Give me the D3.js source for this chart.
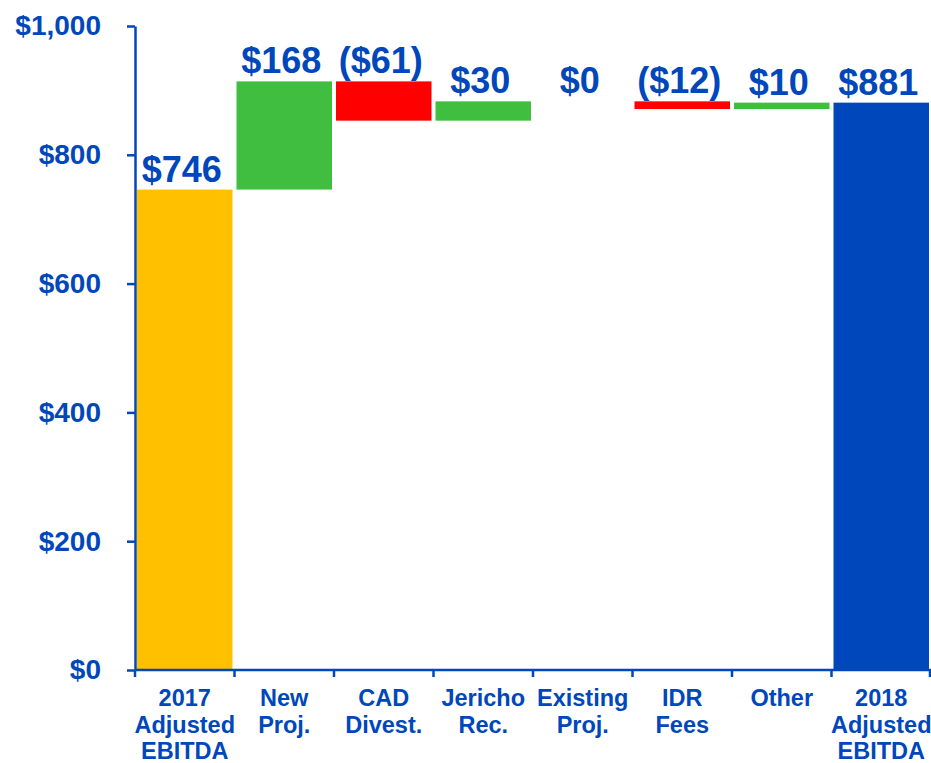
<!DOCTYPE html>
<html>
<head>
<meta charset="utf-8">
<script src="https://cdn.jsdelivr.net/npm/d3@7"></script>
<style>
  body { margin: 0; background: #fff; }
  svg { display: block; font-family: "Liberation Sans", Arial, sans-serif; font-weight: bold; }
</style>
</head>
<body>
<div id="chart"></div>
<script>
// categories, split into label lines
const categories = [
  ['2017', 'Adjusted', 'EBITDA'],
  ['New', 'Proj.'],
  ['CAD', 'Divest.'],
  ['Jericho', 'Rec.'],
  ['Existing', 'Proj.'],
  ['IDR', 'Fees'],
  ['Other'],
  ['2018', 'Adjusted', 'EBITDA']
];
const values = [746, 168, -61, 30, 0, -12, 10, 881];
const kinds = ['start', 'delta', 'delta', 'delta', 'delta', 'delta', 'delta', 'end'];
const yTicks = [0, 200, 400, 600, 800, 1000];

const width = 931;
const height = 763;
const margin = { top: 26, right: 0, bottom: 93, left: 135 };
const blue = '#0047BB';
const colors = { start: '#FFC000', end: '#0047BB', up: '#3FBE3F', down: '#FF0000' };

// running totals for the waterfall
let running = 0;
const bars = values.map((v, i) => {
  let y0, y1;
  if (kinds[i] === 'delta') {
    y0 = running;
    y1 = running + v;
    running = y1;
  } else {
    y0 = 0;
    y1 = v;
    running = v;
  }
  const color = kinds[i] === 'delta' ? (v >= 0 ? colors.up : colors.down) : colors[kinds[i]];
  return { i, v, y0, y1, color };
});

const x = d3.scaleBand()
  .domain(d3.range(categories.length))
  .range([margin.left, width - margin.right])
  .padding(0);

const y = d3.scaleLinear()
  .domain([0, 1000])
  .range([height - margin.bottom, margin.top]);

const svg = d3.select('#chart').append('svg')
  .attr('width', width)
  .attr('height', height);

// bars
svg.selectAll('.bar')
  .data(bars.filter(d => d.v !== 0))
  .enter()
  .append('rect')
  .attr('class', 'bar')
  .attr('x', d => x(d.i) + 2)
  .attr('width', x.bandwidth() - 4)
  .attr('y', d => y(Math.max(d.y0, d.y1)))
  .attr('height', d => Math.abs(y(d.y0) - y(d.y1)))
  .style('fill', d => d.color);

// value labels
const fmt = v => (v < 0 ? `($${-v})` : `$${v}`);
svg.selectAll('.val')
  .data(bars)
  .enter()
  .append('text')
  .attr('class', 'val')
  .attr('x', d => x(d.i) + x.bandwidth() / 2 - 3)
  .attr('y', d => y(Math.max(d.y0, d.y1)) - 8)
  .attr('text-anchor', 'middle')
  .style('font-size', '36px')
  .style('fill', blue)
  .text(d => fmt(d.v));

// y axis
const yAxis = svg.append('g')
  .attr('transform', `translate(${margin.left},0)`)
  .call(d3.axisLeft(y)
    .tickValues(yTicks)
    .tickSize(8)
    .tickSizeOuter(0)
    .tickPadding(26)
    .tickFormat(d => '$' + d3.format(',')(d)));
yAxis.select('.domain').attr('stroke', blue).attr('stroke-width', 2.5);
yAxis.selectAll('.tick line').attr('stroke', blue).attr('stroke-width', 2.5);
yAxis.selectAll('.tick text')
  .style('font-size', '28px')
  .style('font-family', '"Liberation Sans", Arial, sans-serif')
  .style('font-weight', 'bold')
  .attr('fill', blue);

// x axis line and boundary ticks
const baseY = y(0);
svg.append('line')
  .attr('x1', margin.left)
  .attr('x2', width - margin.right)
  .attr('y1', baseY)
  .attr('y2', baseY)
  .attr('stroke', blue)
  .attr('stroke-width', 2.5);

const bounds = x.domain().map(d => x(d)).concat([x(x.domain().length - 1) + x.bandwidth() - 1]);
svg.selectAll('.xtick')
  .data(bounds)
  .enter()
  .append('line')
  .attr('class', 'xtick')
  .attr('x1', d => d)
  .attr('x2', d => d)
  .attr('y1', baseY)
  .attr('y2', baseY + 7)
  .attr('stroke', blue)
  .attr('stroke-width', 2.5);

// category labels
const xl = svg.selectAll('.xlabel')
  .data(categories)
  .enter()
  .append('text')
  .attr('class', 'xlabel')
  .attr('text-anchor', 'middle')
  .style('font-size', '23.5px')
  .style('fill', blue);

xl.selectAll('tspan')
  .data((d, i) => d.map(t => ({ t, i })))
  .enter()
  .append('tspan')
  .attr('x', d => x(d.i) + x.bandwidth() / 2)
  .attr('y', (d, j) => baseY + 36 + j * 26.5)
  .text(d => d.t);
</script>
</body>
</html>
